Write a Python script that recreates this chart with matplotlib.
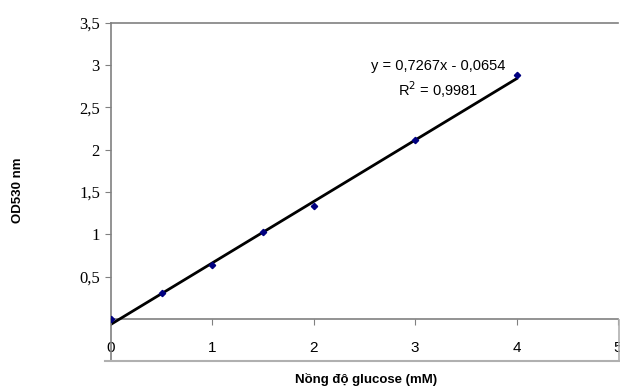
import matplotlib
matplotlib.use('Agg')
import matplotlib.pyplot as plt
from matplotlib.lines import Line2D
import numpy as np

# du lieu doc tu hinh
nong_do = [0, 0.5, 1, 1.5, 2, 3, 4]
od530 = [0.0, 0.30, 0.64, 1.03, 1.33, 2.12, 2.88]
he_so_a = "0,7267"
he_so_b = "0,0654"
slope, intercept = 0.7267, -0.0654
r2_text = "0,9981"
y_ticks = [0.5, 1, 1.5, 2, 2.5, 3, 3.5]
y_ticklabels = ["0,5", "1", "1,5", "2", "2,5", "3", "3,5"]
x_ticks = [0, 1, 2, 3, 4, 5]

fig = plt.figure(figsize=(6.2, 3.87), dpi=100)
ax = fig.add_axes([111/620, 1-361/387, 507/620, 338/387])

# duong xu huong
x_fit = np.array([0, 4])
ax.plot(x_fit, slope*x_fit + intercept, color='black', lw=2, zorder=2)
ax.plot(nong_do, od530, ls='none', marker='D', ms=3.2, color='#000080', zorder=3)

ax.set_xlim(0, 5)
ax.set_ylim(-0.5, 3.5)

for s in ['left', 'top']:
    ax.spines[s].set_color('#808080')
    ax.spines[s].set_linewidth(1.2)
ax.spines['bottom'].set_visible(False)
ax.spines['right'].set_visible(False)

# khung duoi ve bang duong cua figure
fig.add_artist(Line2D([105/620, 1.0], [1-361/387, 1-361/387],
                      transform=fig.transFigure, color='#b0b0b0', lw=1.5))
fig.add_artist(Line2D([619/620, 619/620], [1-361/387, 1-320/387],
                      transform=fig.transFigure, color='#b0b0b0', lw=1.2))

ax.set_yticks(y_ticks)
ax.set_yticklabels(y_ticklabels, fontfamily='Liberation Serif', fontsize=12)
ax.tick_params(axis='y', direction='out', length=4, color='#808080', pad=4)
ax.tick_params(axis='x', bottom=False, labelbottom=False)

# truc x nam o y = 0
sec = ax.secondary_xaxis(0.5 / 4.0)
sec.set_xticks(x_ticks)
sec.set_xticklabels([str(v) for v in x_ticks], fontfamily='Liberation Sans', fontsize=11)
sec.spines['bottom'].set_color('#808080')
sec.spines['bottom'].set_linewidth(1.2)
sec.tick_params(axis='x', direction='out', length=4, color='#808080', pad=12)

ax.text(3.23, 2.99, "y = %sx - %s" % (he_so_a, he_so_b),
        ha='center', va='center', fontfamily='Liberation Sans', fontsize=10.5)
ax.text(3.23, 2.71, "R$^2$ = " + r2_text, ha='center', va='center',
        fontfamily='Liberation Sans', fontsize=10.5)

ax.set_xlabel("Nồng độ glucose (mM)", fontfamily='Liberation Sans', fontweight='bold', fontsize=9.5)
ax.xaxis.set_label_coords(0.503, -0.035)
ax.set_ylabel("OD530 nm", fontfamily='Liberation Sans', fontweight='bold', fontsize=9.5)
ax.yaxis.set_label_coords(-0.172, 0.506)

fig.savefig('out.png', dpi=100)
